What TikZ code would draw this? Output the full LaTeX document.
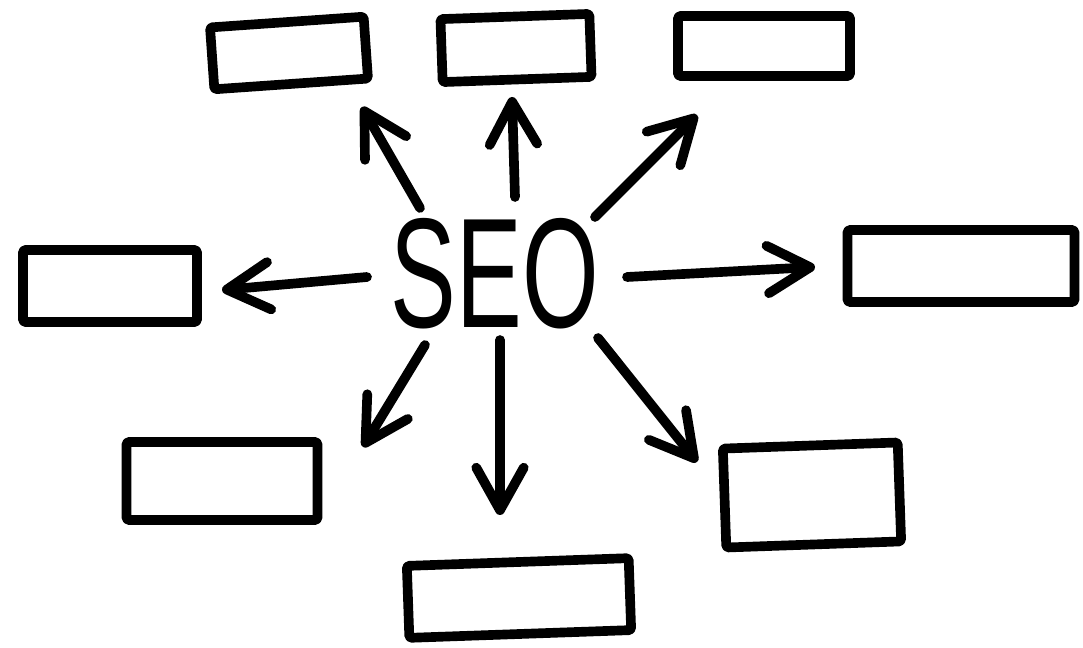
\documentclass[tikz,border=0pt]{standalone}
\usepackage{fontspec}
\setsansfont{Liberation Sans}
\usetikzlibrary{arrows.meta,calc}
\tikzset{
	>={Straight Barb[length=8.5mm,width=9.5mm,round]}
}

\begin{document}
\begin{tikzpicture}[
x = 0.02cm, y = -0.02cm,
line width = 5.5pt,
line cap = round,
line join = round,
sketchbox/.style = {
	draw,
	rectangle,
	rounded corners = 1pt,
	inner sep = 0pt
}
]
\useasboundingbox (0,0) rectangle (1083,648);

\node (seo) [font=\sffamily\fontsize{89}{89}\selectfont, xscale=0.63, inner sep=0pt] at (495,274) {SEO};

\node (topleft) [sketchbox, minimum width=3.08cm, minimum height=1.24cm, rotate=4] at (289,53) {};
\node (top) [sketchbox, minimum width=2.98cm, minimum height=1.26cm, rotate=2] at (516,48) {};
\node (topright) [sketchbox, minimum width=3.44cm, minimum height=1.2cm] at (764,46) {};
\node (left) [sketchbox, minimum width=3.48cm, minimum height=1.44cm] at (110,286) {};
\node (right) [sketchbox, minimum width=4.54cm, minimum height=1.44cm] at (961,266) {};
\node (botleft) [sketchbox, minimum width=3.82cm, minimum height=1.56cm] at (222,481) {};
\node (bot) [sketchbox, minimum width=4.44cm, minimum height=1.44cm, rotate=2] at (519,598) {};
\node (botright) [sketchbox, minimum width=3.5cm, minimum height=1.98cm, rotate=2] at (812,495) {};

% arrow tips, just short of the boxes
\coordinate (to topleft) at (362,107);
\coordinate (to top) at (512,97);
\coordinate (to topright) at (697,115);
\coordinate (to right) at (815,267);
\coordinate (to botright) at (697,462);
\coordinate (to bot) at (500,515);
\coordinate (to botleft) at (363,447);
\coordinate (to left) at (222,290);

\draw[->] ($(seo)+(-75,-66)$) -- (to topleft);
\draw[->] ($(seo)+(20,-77)$) -- (to top);
\draw[->] ($(seo)+(100,-57)$) -- (to topright);
\draw[->] ($(seo)+(132,3)$) -- (to right);
\draw[->] ($(seo)+(103,64)$) -- (to botright);
\draw[->] ($(seo)+(5,66)$) -- (to bot);
\draw[->] ($(seo)+(-70,71)$) -- (to botleft);
\draw[->] ($(seo)+(-128,3)$) -- (to left);

\end{tikzpicture}
\end{document}
